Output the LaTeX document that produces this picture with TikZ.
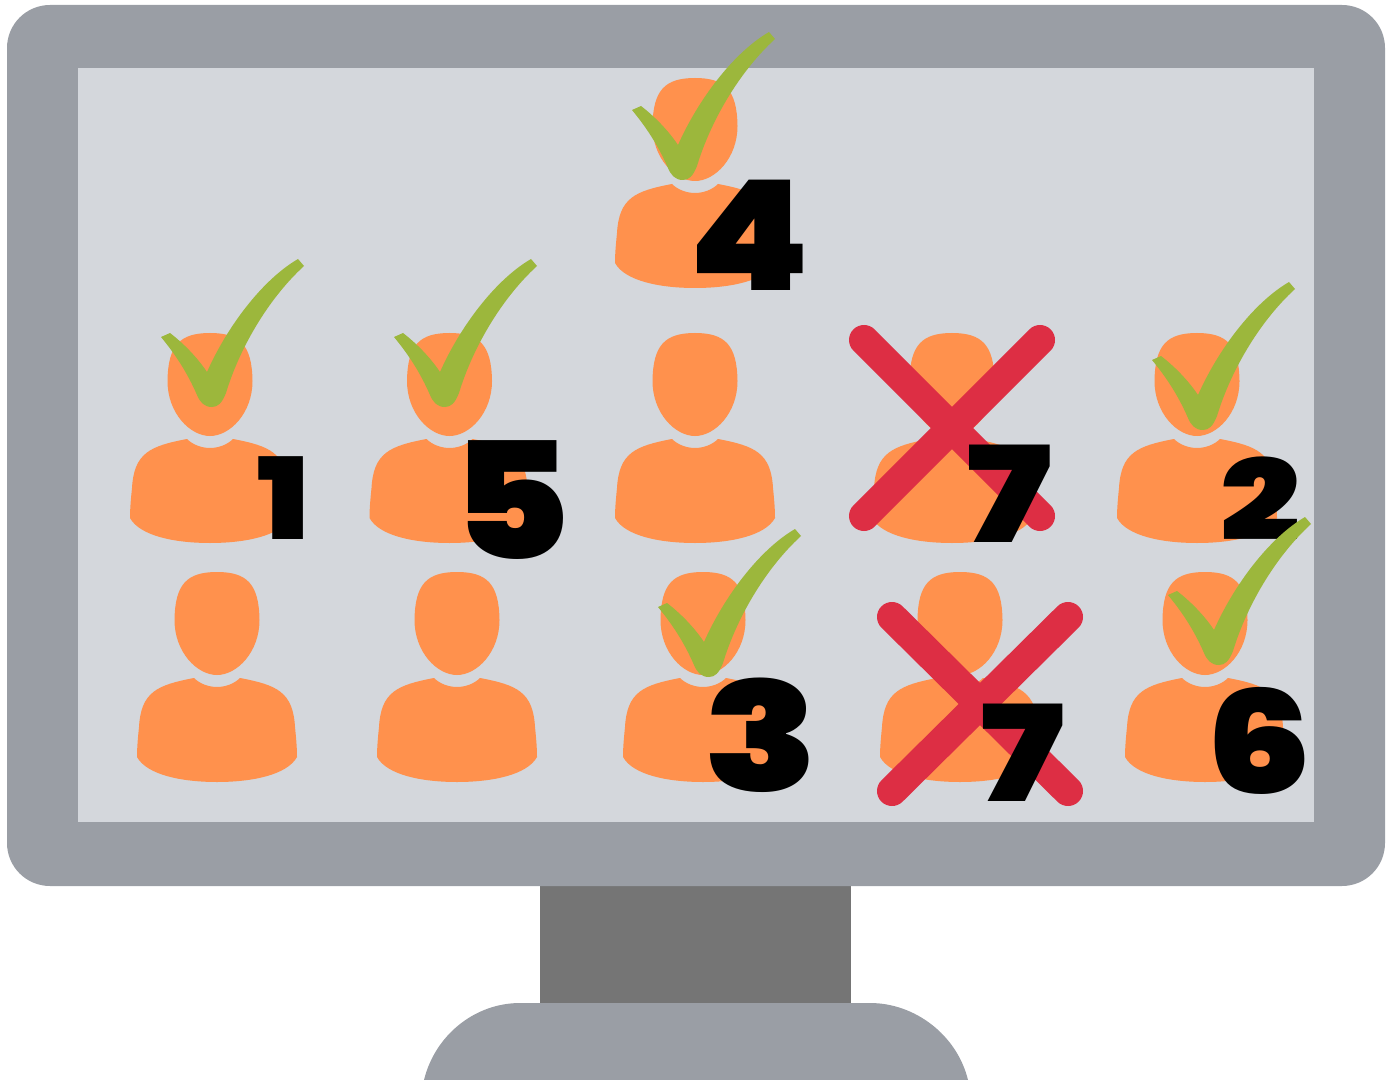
\documentclass[tikz,border=0pt]{standalone}
\usepackage{graphicx}
\usepackage{fontspec}
\newfontfamily\numfont{Poppins Black}
\newcommand{\widenum}[2]{\scalebox{#1}[1]{#2}}
\definecolor{framegray}{HTML}{9A9EA5}
\definecolor{screengray}{HTML}{D4D7DC}
\definecolor{standgray}{HTML}{757575}
\definecolor{personorange}{HTML}{FF914D}
\definecolor{tickgreen}{HTML}{9CB73C}
\definecolor{crossred}{HTML}{DD2E44}
\tikzset{
	every picture/.style={line width=0.75pt},
	crossline/.style={draw=crossred,line width=22.5pt,line cap=round},
	numlabel/.style={font=\numfont\fontsize{#1}{#1}\selectfont,inner sep=0pt,text=black},
	person/.pic={
		% head
		\fill [personorange] (0,0) .. controls (-30,0) and (-42,12) .. (-42.5,48) .. controls (-42.5,80) and (-20,103) .. (0,103) .. controls (20,103) and (42.5,80) .. (42.5,48) .. controls (42,12) and (30,0) .. (0,0) -- cycle;
		% body
		\fill [personorange] (-23,106) .. controls (-17,112) and (-8,115) .. (0,115) .. controls (8,115) and (17,112) .. (23,106) .. controls (60,113) and (76,120) .. (78,155) .. controls (79,165) and (80,175) .. (80,185) .. controls (70,203) and (35,210) .. (0,210) .. controls (-35,210) and (-70,203) .. (-80,185) .. controls (-80,175) and (-79,165) .. (-78,155) .. controls (-76,120) and (-60,113) .. (-23,106) -- cycle;
	},
	tickmark/.pic={
		\fill [tickgreen] (0,0) .. controls (20,-45) and (55,-92) .. (91,-113) -- (97,-106) .. controls (60,-72) and (32,-22) .. (19,21) .. controls (15,31) and (11,35) .. (5,35) .. controls (-3,35) and (-7,30) .. (-10,23) .. controls (-20,0) and (-32,-18) .. (-46,-35) -- (-37,-39) .. controls (-24,-29) and (-10,-15) .. (0,0) -- cycle;
	}
}
\begin{document}
\begin{tikzpicture}[x=0.75pt,y=0.75pt,yscale=-1,xscale=1]
	\useasboundingbox (0,0) rectangle (1395,1080);
	
	%Stand and base
	\fill [standgray] (540,880) rectangle (851,1010);
	\begin{scope}
		\clip (0,0) rectangle (1395,1080);
		\fill [framegray] (424,1080) .. controls (435,1035) and (475,1003) .. (520,1003) -- (870,1003) .. controls (915,1003) and (957,1035) .. (968,1080) -- cycle;
	\end{scope}
	%Monitor
	\fill [framegray,rounded corners=32.25pt] (7,5) rectangle (1385,886);
	\fill [screengray] (78,68) rectangle (1314,822);
	
	%People
	\foreach \px/\py in {695/78,210/333,449.5/333,695/333,952/333,1197/333,217/572,457/572,703/572,960/572,1205/572}
		\pic [transform shape] at (\px,\py) {person};
	
	%Crosses
	\draw [crossline] (864,340) -- (1040,516);
	\draw [crossline] (1040,340) -- (864,516);
	\draw [crossline] (892,617) -- (1068,791);
	\draw [crossline] (1068,617) -- (892,791);
	
	% Text Node
	\node (num1) [numlabel=85pt] at (284,498) {\widenum{1.16}{1}};
	% Text Node
	\node (num2) [numlabel=84pt] at (1260,498.5) {\widenum{1.26}{2}};
	% Text Node
	\node (num3) [numlabel=114pt] at (761,735) {\widenum{1.23}{3}};
	% Text Node
	\node (num4) [numlabel=115pt] at (749,235) {\widenum{1.13}{4}};
	% Text Node
	\node (num5) [numlabel=122pt] at (511.5,500.5) {\widenum{1.11}{5}};
	% Text Node
	\node (num6) [numlabel=107pt] at (1259,740.5) {\widenum{1.17}{6}};
	% Text Node
	\node (num7a) [numlabel=100pt] at (1009.5,494) {\widenum{1.25}{7}};
	% Text Node
	\node (num7b) [numlabel=100pt] at (1022,753) {\widenum{1.23}{7}};
	
	%Ticks
	\foreach \tx/\ty in {207/372,440/372,678/145,1198/395,704/642,1214/630}
		\pic [transform shape] at (\tx,\ty) {tickmark};
\end{tikzpicture}
\end{document}
